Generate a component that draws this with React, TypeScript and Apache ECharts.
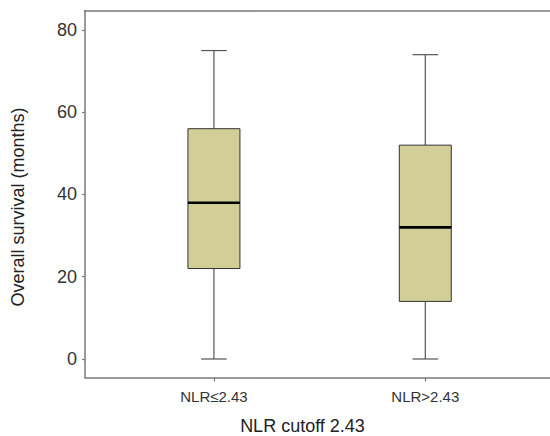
import React, { useEffect, useRef } from "react";
import * as echarts from "echarts";

const categories = ["NLR≤2.43", "NLR>2.43"];
const whiskerLow = [0, 0];
const q1 = [22, 14];
const median = [38, 32];
const q3 = [56, 52];
const whiskerHigh = [75, 74];
const yTicks = [0, 20, 40, 60, 80];
const xTicks = [1, 2];

const FONT = "Liberation Sans";

export default function App() {
  const ref = useRef<HTMLDivElement>(null);
  useEffect(() => {
    if (!ref.current) return;
    const chart = echarts.init(ref.current, undefined, { renderer: "svg" });
    const data = categories.map((_, i) => [
      i + 1,
      whiskerLow[i],
      q1[i],
      median[i],
      q3[i],
      whiskerHigh[i],
    ]);
    const axisGray = "#7a7a7a";
    chart.setOption({
      animation: false,
      backgroundColor: "#ffffff",
      grid: { left: 85, right: 0, top: 10.5, bottom: 58.5, containLabel: false, outerBoundsMode: "none" },
      xAxis: [
        {
          type: "value",
          min: 0.39,
          max: 2.59,
          position: "bottom",
          splitLine: { show: false },
          axisLine: { show: true, onZero: false, lineStyle: { color: axisGray, width: 1.5 } },
          axisTick: { show: true, customValues: xTicks, length: 4, lineStyle: { color: axisGray, width: 1.2 } },
          axisLabel: {
            customValues: xTicks,
            formatter: (v: number) => categories[Math.round(v) - 1] ?? "",
            fontSize: 15,
            color: "#333",
            fontFamily: FONT,
            margin: 11,
          },
          name: "NLR cutoff 2.43",
          nameLocation: "middle",
          nameGap: 39,
          nameTextStyle: { fontSize: 18, color: "#222", fontFamily: FONT, padding: [0, 30, 0, 0] },
        },
        {
          type: "value",
          min: 0.39,
          max: 2.59,
          position: "top",
          splitLine: { show: false },
          axisLine: { show: true, onZero: false, lineStyle: { color: axisGray, width: 1.5 } },
          axisTick: { show: false },
          axisLabel: { show: false },
        },
      ],
      yAxis: {
        type: "value",
        min: -4.5,
        max: 84.74,
        splitLine: { show: false },
        axisLine: { show: true, onZero: false, lineStyle: { color: axisGray, width: 1.5 } },
        axisTick: { show: true, customValues: yTicks, length: 3, lineStyle: { color: axisGray, width: 1.2 } },
        axisLabel: {
          customValues: yTicks,
          fontSize: 18,
          color: "#333",
          fontFamily: FONT,
          margin: 8,
        },
        name: "Overall survival (months)",
        nameLocation: "middle",
        nameGap: 58,
        nameTextStyle: { fontSize: 18, color: "#222", fontFamily: FONT, padding: [0, 26, 0, 0] },
      },
      series: [
        {
          type: "custom",
          xAxisIndex: 0,
          yAxisIndex: 0,
          data,
          encode: { x: 0, y: [1, 2, 3, 4, 5] },
          renderItem: (params: any, api: any) => {
            const x = api.value(0);
            const pLow = api.coord([x, api.value(1)]);
            const pQ1 = api.coord([x, api.value(2)]);
            const pMed = api.coord([x, api.value(3)]);
            const pQ3 = api.coord([x, api.value(4)]);
            const pHigh = api.coord([x, api.value(5)]);
            const boxW = api.size([0.246, 0])[0];
            const capW = api.size([0.121, 0])[0];
            const cx = pMed[0];
            const whiskerStyle = { stroke: "#555", lineWidth: 1.2 };
            return {
              type: "group",
              children: [
                { type: "line", shape: { x1: cx, y1: pQ3[1], x2: cx, y2: pHigh[1] }, style: whiskerStyle },
                { type: "line", shape: { x1: cx, y1: pQ1[1], x2: cx, y2: pLow[1] }, style: whiskerStyle },
                { type: "line", shape: { x1: cx - capW / 2, y1: pHigh[1], x2: cx + capW / 2, y2: pHigh[1] }, style: whiskerStyle },
                { type: "line", shape: { x1: cx - capW / 2, y1: pLow[1], x2: cx + capW / 2, y2: pLow[1] }, style: whiskerStyle },
                {
                  type: "rect",
                  shape: { x: cx - boxW / 2, y: pQ3[1], width: boxW, height: pQ1[1] - pQ3[1] },
                  style: { fill: "#d2ce98", stroke: "#333", lineWidth: 1 },
                },
                {
                  type: "line",
                  shape: { x1: cx - boxW / 2, y1: pMed[1], x2: cx + boxW / 2, y2: pMed[1] },
                  style: { stroke: "#000", lineWidth: 2.6 },
                },
              ],
            };
          },
        },
      ],
    });
    return () => chart.dispose();
  }, []);
  return (
    <div
      ref={ref}
      style={{ position: "fixed", left: 0, top: 0, width: 550, height: 436 }}
    />
  );
}
